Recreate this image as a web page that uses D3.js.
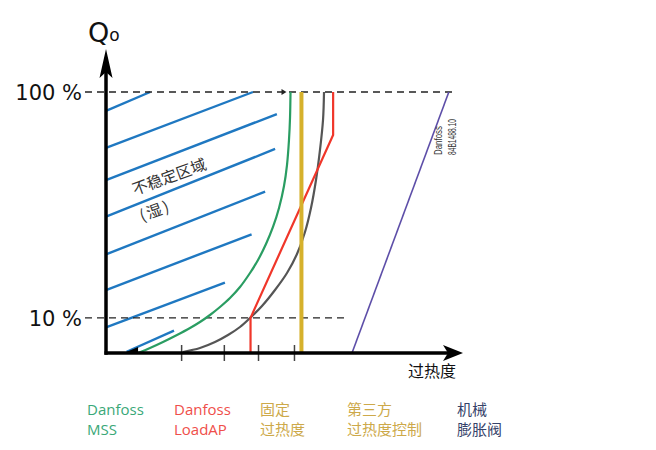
<!DOCTYPE html>
<html>
<head>
<meta charset="utf-8">
<script src="https://cdn.jsdelivr.net/npm/d3@7"></script>
<style>
  html, body { margin: 0; padding: 0; background: #fff; }
  svg { display: block; }
</style>
</head>
<body>
<svg id="chart" width="656" height="450"></svg>
<script>
// ---------- data (superheat in arbitrary units, Qo in %) ----------
const yTickValues = [100, 10];
const yTickLabels = ["100 %", "10 %"];
const xTickValues = [21.1, 33.1, 42.7, 52.8];

// Danfoss MSS (green)
const mssSuperheat = [8.99, 12.36, 16.01, 19.94, 23.60, 26.40, 29.21, 32.02, 34.83, 37.64,
                      40.45, 42.70, 44.94, 46.91, 48.60, 50.00, 50.84, 51.40, 51.69, 51.83];
const mssLoad      = [-4, -2.01, 0.38, 3.17, 5.96, 8.35, 11.14, 14.33, 17.92, 22.30,
                      27.88, 33.06, 39.43, 46.21, 53.78, 62.54, 70.91, 80.87, 89.64, 100];

// third-party superheat control (grey)
const thirdSuperheat = [21.63, 26.40, 30.62, 34.27, 37.64, 40.45, 43.82, 47.47, 50.84,
                        53.65, 55.90, 57.58, 58.99, 60.11, 60.96, 61.24];
const thirdLoad      = [-3.60, -2.01, 0.38, 3.17, 6.36, 9.95, 14.73, 21.10, 27.88,
                        35.45, 44.22, 53.78, 64.94, 76.89, 88.84, 100];

// Danfoss LoadAP (red)
const loadApSuperheat = [40.6, 40.6, 63.8, 63.8];
const loadApLoad      = [-4, 10, 82.9, 100];

// fixed superheat (yellow)
const fixedSuperheat = [54.9, 54.9];
const fixedLoad      = [-4, 100];

// mechanical expansion valve (purple)
const mechSuperheat = [69.1, 96.3];
const mechLoad      = [-4, 100];

// unstable (wet) region hatch: [x1, y1, x2, y2]
const hatchSegments = [
  [0, 92.5, 12.4, 100],
  [0, 77.7, 41.3, 100],
  [0, 64.9, 48.0, 91.2],
  [0, 50.3, 47.5, 77.3],
  [0, 35.3, 44.7, 60.3],
  [0, 21.1, 40.9, 43.3],
  [0, 6.2, 33.4, 24.0],
  [5.8, -3.5, 19.1, 4.9]
];

// reference (dashed) load levels: [load, x start, x end]
const refLevels = [[100, -5.9, 98.3], [10, -5.9, 67.1]];

const legendTitles = [
  ["Danfoss", "MSS"],
  ["Danfoss", "LoadAP"],
  ["固定", "过热度"],
  ["第三方", "过热度控制"],
  ["机械", "膨胀阀"]
];
const legendColors = ["#3aa878", "#ef4f4a", "#cda94a", "#cda94a", "#36436a"];

const xAxisTitle = "过热度";
const regionLabel = "不稳定区域";
const regionSubLabel = "(湿)";

// ---------- scales ----------
const svg = d3.select("#chart");
const x = d3.scaleLinear().domain([0, 100]).range([106, 462]);
const y = d3.scaleLinear().domain([-4, 100]).range([353, 92]);

const cjk = "'Noto Sans CJK SC', 'Noto Sans', sans-serif";

// hatch lines
svg.append("g").selectAll("line").data(hatchSegments).join("line")
  .attr("x1", d => x(d[0])).attr("y1", d => y(d[1]))
  .attr("x2", d => x(d[2])).attr("y2", d => y(d[3]))
  .attr("stroke", "#1f78c1").attr("stroke-width", 2.4);

// small black wedge at the origin of the bottom hatch
svg.append("path")
  .attr("d", `M${x(5.0)},${y(-4)} L${x(9.0)},${y(-1.6)} L${x(9.0)},${y(-4)} Z`)
  .attr("fill", "#000");

// dashed reference lines
svg.append("g").selectAll("line").data(refLevels).join("line")
  .attr("x1", d => x(d[1])).attr("x2", d => x(d[2]))
  .attr("y1", d => y(d[0])).attr("y2", d => y(d[0]))
  .attr("stroke", "#222").attr("stroke-width", 1.4)
  .attr("stroke-dasharray", "7,5");

// tiny arrow mark on the 100 % line
svg.append("path")
  .attr("d", `M${x(49.3)},${y(100) - 3} L${x(49.3) + 5},${y(100)} L${x(49.3)},${y(100) + 3} Z`)
  .attr("fill", "#222");

const lineGen = (xs, ys, curve) => d3.line()
  .x(i => x(xs[i])).y(i => y(ys[i])).curve(curve)(d3.range(xs.length));

// mechanical valve
svg.append("path").attr("d", lineGen(mechSuperheat, mechLoad, d3.curveLinear))
  .attr("fill", "none").attr("stroke", "#5d4ea8").attr("stroke-width", 1.6);

// MSS green
svg.append("path").attr("d", lineGen(mssSuperheat, mssLoad, d3.curveCatmullRom.alpha(0.5)))
  .attr("fill", "none").attr("stroke", "#2a9d62").attr("stroke-width", 2.2);

// third party grey
svg.append("path").attr("d", lineGen(thirdSuperheat, thirdLoad, d3.curveCatmullRom.alpha(0.5)))
  .attr("fill", "none").attr("stroke", "#555").attr("stroke-width", 2.2);

// LoadAP red
svg.append("path").attr("d", lineGen(loadApSuperheat, loadApLoad, d3.curveLinear))
  .attr("fill", "none").attr("stroke", "#f0362a").attr("stroke-width", 2.2);

// fixed superheat yellow
svg.append("path").attr("d", lineGen(fixedSuperheat, fixedLoad, d3.curveLinear))
  .attr("fill", "none").attr("stroke", "#d6b12c").attr("stroke-width", 4);

// ---------- axes ----------
const xAxis = svg.append("g").attr("transform", `translate(0,${y(-4)})`)
  .call(d3.axisBottom(x).tickValues(xTickValues).tickFormat("").tickSizeOuter(0));
xAxis.select(".domain").remove();
xAxis.selectAll(".tick line").attr("y1", -8).attr("y2", 8)
  .attr("stroke", "#444").attr("stroke-width", 1.5);

const yAxis = svg.append("g").attr("transform", `translate(${x(0)},0)`)
  .call(d3.axisLeft(y).tickValues(yTickValues)
    .tickFormat((d, i) => yTickLabels[i]).tickSize(0).tickPadding(24));
yAxis.select(".domain").remove();
yAxis.selectAll(".tick text")
  .attr("font-family", "'DejaVu Sans', sans-serif").attr("font-size", 21)
  .attr("fill", "#111").attr("dy", "0.36em");

// axis lines with arrows
const x0 = x(0), yb = y(-4);
svg.append("line").attr("x1", x0 - 1.5).attr("x2", 450).attr("y1", yb).attr("y2", yb)
  .attr("stroke", "#000").attr("stroke-width", 3.5);
svg.append("line").attr("x1", x0).attr("x2", x0).attr("y1", 70).attr("y2", yb + 1.75)
  .attr("stroke", "#000").attr("stroke-width", 3.5);
svg.append("path")
  .attr("d", `M463,${yb} L443,${yb - 8} L448,${yb} L443,${yb + 8} Z`).attr("fill", "#000");
svg.append("path")
  .attr("d", `M${x0},49 L${x0 + 6.5},78 L${x0},72 L${x0 - 6.5},78 Z`).attr("fill", "#000");

// axis titles
const qt = svg.append("text").attr("x", 88).attr("y", 42)
  .attr("font-family", "'DejaVu Sans', sans-serif").attr("fill", "#111");
qt.append("tspan").attr("font-size", 27).text("Q");
qt.append("tspan").attr("font-size", 17).attr("dy", -1).text("o");

svg.append("text").attr("x", 408).attr("y", 377)
  .attr("font-family", cjk).attr("font-size", 16).attr("fill", "#111")
  .text(xAxisTitle);

// region labels
svg.append("text")
  .attr("transform", `translate(${x(18.3)},${y(66.1) + 5}) rotate(-20)`)
  .attr("text-anchor", "middle")
  .attr("font-family", cjk).attr("font-size", 15.5).attr("fill", "#333")
  .text(regionLabel);
svg.append("text")
  .attr("transform", `translate(${x(14.3)},${y(52.6) + 5}) rotate(-20)`)
  .attr("text-anchor", "middle")
  .attr("font-family", cjk).attr("font-size", 15.5).attr("fill", "#333")
  .attr("letter-spacing", 2)
  .text(regionSubLabel);

// drawing reference
svg.append("text").attr("transform", "translate(442,155) rotate(-90)")
  .attr("font-family", "'Liberation Sans', sans-serif").attr("font-size", 11.5)
  .attr("textLength", 29).attr("lengthAdjust", "spacingAndGlyphs")
  .attr("fill", "#333").text("Danfoss");
svg.append("text").attr("transform", "translate(456,155) rotate(-90)")
  .attr("font-family", "'Liberation Sans', sans-serif").attr("font-size", 11)
  .attr("textLength", 36).attr("lengthAdjust", "spacingAndGlyphs")
  .attr("fill", "#333").text("84B1488.10");

// ---------- legend ----------
const legendX = [87, 174, 260, 347, 457];
const lg = svg.append("g").selectAll("text").data(legendTitles).join("text")
  .attr("x", (d, i) => legendX[i]).attr("y", 415)
  .attr("font-family", "'Open Sans', 'Noto Sans CJK SC', sans-serif")
  .attr("font-size", 15)
  .attr("fill", (d, i) => legendColors[i]);
lg.append("tspan").text(d => d[0]);
lg.append("tspan").attr("x", (d, i) => legendX[i]).attr("dy", 20).text(d => d[1]);
</script>
</body>
</html>
